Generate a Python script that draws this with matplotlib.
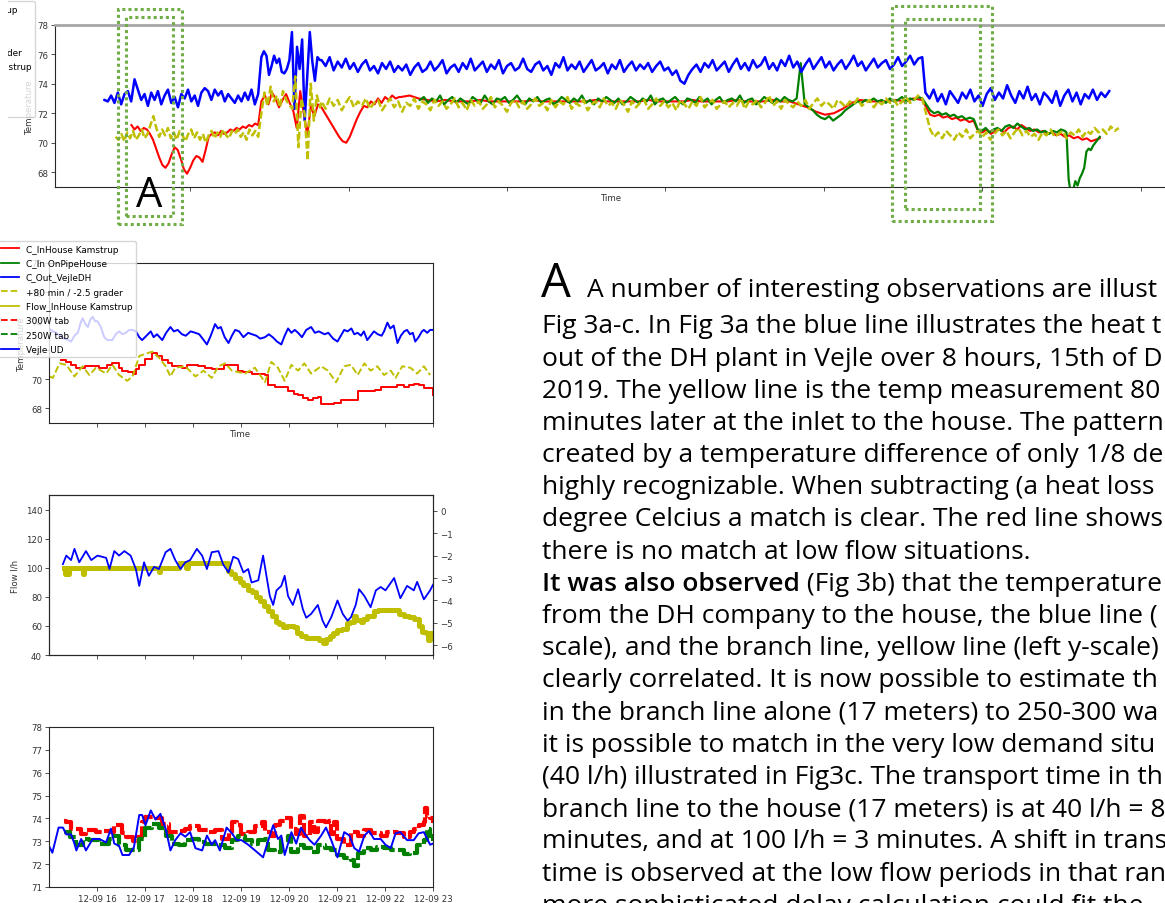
import numpy as np
import matplotlib
matplotlib.use('Agg')
import matplotlib.pyplot as plt
from matplotlib.lines import Line2D
from matplotlib.patches import Rectangle

# ---------------- data ----------------
# legend entries (same legend used on the overview and on Fig 3a)
legend_labels = ['C_InHouse Kamstrup', 'C_In OnPipeHouse', 'C_Out_VejleDH',
                 '+80 min / -2.5 grader', 'Flow_InHouse Kamstrup',
                 '300W tab', '250W tab', 'Vejle UD']

# overview chart (top), time in arbitrary units, one span per segment
blue_spans = [(0.46, 1.43), (1.45, 1.82), (1.83, 5.62), (5.64, 6.80)]
blue_a = [72.9, 72.8, 73.2, 72.7, 73.4, 72.6, 73.3, 73.5, 72.8, 74.3, 73.6, 72.9, 73.3, 72.5, 73.4, 72.9,
          73.5, 72.6, 73.2, 73.6, 72.7, 73.1, 72.4, 73.3, 73.0, 73.6, 72.8, 73.2, 72.5, 73.4, 73.7, 73.5,
          72.9, 73.6, 73.2, 73.5, 72.8, 73.3, 73.0, 72.7, 73.2, 72.8, 73.4, 72.9, 73.6, 72.6, 73.3]
blue_b = [75.8, 76.2, 75.9, 74.6, 75.2, 75.9, 75.4, 75.7, 74.8, 74.7, 75.0, 75.6, 77.5, 72.3, 76.5, 75.0,
          77.0, 71.5, 74.5, 77.5, 75.5, 74.2, 75.8, 75.6]
blue_c = [75.6, 75.2, 75.8, 74.9, 75.5, 75.1, 75.7, 75.0, 75.4, 74.8, 75.3, 75.6, 74.9, 75.2, 74.7, 75.4,
          75.0, 75.5, 74.8, 75.2, 74.9, 75.3, 74.6, 75.1, 75.4, 74.8, 75.0, 75.5, 74.9, 75.2, 75.6, 74.7,
          75.1, 75.3, 74.8, 75.4, 75.0, 75.7, 74.9, 75.2, 75.5, 74.8, 75.3, 75.0, 75.6, 74.7, 75.2, 75.4,
          74.9, 75.1, 75.7, 75.0, 74.8, 75.3, 75.5, 74.9, 75.2, 74.6, 75.4, 75.1, 75.8, 74.9, 75.3, 75.0,
          75.5, 74.8, 75.2, 75.6, 74.9, 75.1, 75.4, 74.7, 75.3, 75.0, 75.6, 74.8, 75.2, 75.5, 74.9, 75.3,
          75.0, 75.4, 74.8, 75.2, 75.5, 74.9, 75.1, 74.6, 74.9, 74.2, 74.0, 74.6, 75.0, 75.3, 74.8, 75.4,
          75.1, 75.6, 74.9, 75.2, 75.5, 74.8, 75.3, 75.7, 75.0, 75.4, 74.9, 75.6, 75.1, 75.3, 75.8, 75.0,
          75.4, 74.9, 75.6, 75.2, 75.9, 75.1, 75.5, 74.8, 75.3, 75.7, 75.0, 75.4, 75.8, 75.1, 75.5, 74.9,
          75.3, 75.6, 75.0, 75.4, 75.9, 75.2, 75.5, 74.9, 75.3, 75.7, 75.1, 75.4, 75.6, 75.0, 75.3, 75.8,
          75.2, 75.5, 75.9, 75.3, 75.7, 75.8]
blue_d = [73.4, 73.0, 73.6, 72.8, 73.3, 72.6, 73.5, 73.1, 72.7, 73.4, 73.0, 73.6, 72.8, 73.2, 72.5, 73.3,
          73.7, 72.9, 73.4, 73.0, 73.9, 73.2, 72.7, 73.5, 73.0, 73.8, 72.9, 73.3, 72.6, 73.4, 73.1, 72.7,
          73.5, 72.5, 73.2, 73.6, 72.8, 73.4, 72.6, 73.3, 73.0, 73.6, 72.9, 73.4, 73.1, 73.5]

red_spans = [(0.63, 1.43), (1.45, 2.32), (2.33, 5.62), (5.67, 6.74)]
red_a = [71.2, 70.9, 71.1, 70.8, 71.0, 70.9, 70.6, 70.2, 69.6, 69.0, 68.5, 68.3, 68.6, 69.2, 69.7, 69.5,
         68.9, 68.2, 67.9, 68.3, 68.8, 69.1, 69.0, 68.7, 69.5, 70.4, 70.6, 70.7, 70.5, 70.8, 70.6, 70.7,
         70.9, 70.8, 71.0, 70.9, 71.1, 71.0, 71.2, 71.1, 71.3, 71.2]
red_b = [72.8, 73.2, 72.6, 73.4, 73.0, 72.4, 72.9, 73.3, 72.7, 72.2, 71.0, 73.5, 72.0, 70.5, 72.5, 71.8,
         72.6, 72.4, 72.0, 71.6, 71.2, 70.8, 70.4, 70.1, 70.0, 70.4, 71.0, 71.6, 72.1, 72.5, 72.4, 72.8,
         72.6, 73.0, 72.7, 73.1, 72.9, 73.2, 73.0, 73.1]
red_c = [73.1, 73.2, 73.0, 72.9, 72.8, 72.9, 72.8, 72.8, 72.8, 72.9, 72.8, 72.8, 72.8, 72.8, 72.8, 72.9,
         72.8, 72.8, 72.8, 72.8, 72.8, 72.8, 72.9, 72.8, 72.8, 72.8, 72.8, 72.8, 72.9, 72.8, 72.8, 72.8,
         72.8, 72.9, 72.8, 72.8, 72.8, 72.8, 72.9, 72.8, 72.8, 72.8, 72.9, 72.8, 72.8, 72.6, 72.4, 72.1,
         71.9, 72.0, 72.3, 72.7, 72.9, 72.8, 72.8, 72.8, 72.9, 72.8, 73.0, 72.9]
red_d = [71.9, 71.8, 71.9, 71.7, 71.8, 71.6, 71.7, 71.5, 71.6, 71.4, 71.5, 70.8, 70.7, 70.9, 70.6, 70.8,
         70.9, 70.7, 71.0, 71.1, 70.9, 71.2, 71.0, 70.8, 70.9, 70.7, 70.8, 70.6, 70.7, 70.5, 70.6, 70.4,
         70.5, 70.3, 70.4, 70.2, 70.3, 70.1, 70.2, 70.3]

green_spans = [(2.45, 5.62), (5.67, 6.52), (6.53, 6.74)]
green_a = [72.9, 73.1, 72.7, 73.0, 72.8, 73.2, 72.6, 72.9, 73.1, 72.7, 73.0, 72.8, 72.6, 73.1, 72.9, 72.7,
           73.2, 72.8, 72.6, 73.0, 72.9, 73.1, 72.7, 72.9, 73.2, 72.8, 72.6, 73.0, 72.8, 73.1, 72.7, 72.9,
           73.0, 72.6, 72.8, 73.1, 72.9, 72.7, 73.0, 72.8, 73.2, 72.7, 72.9, 72.6, 73.0, 72.8, 73.1, 72.9,
           72.7, 73.0, 72.6, 72.8, 73.1, 72.9, 72.7, 73.0, 72.8, 73.2, 72.6, 72.9, 73.0, 72.7, 72.9, 73.1,
           72.8, 72.6, 73.0, 72.9, 72.7, 73.1, 72.8, 73.0, 72.6, 72.9, 73.1, 72.7, 72.9, 73.0, 72.8, 73.2,
           72.7, 72.9, 73.0, 72.6, 72.8, 73.1, 72.9, 72.7, 73.0, 72.8, 73.1, 72.9, 72.8, 73.0, 75.4, 72.6,
           72.4, 72.2, 71.9, 71.7, 71.6, 71.8, 71.5, 71.7, 71.9, 72.2, 72.4, 72.6, 72.8, 72.7, 72.9, 72.8,
           73.0, 72.8, 72.9, 72.7, 73.0, 72.8, 72.9, 73.1, 72.8, 73.0, 72.9, 73.1, 73.0]
green_b = [72.2, 72.0, 72.1, 71.9, 72.0, 71.8, 71.9, 71.7, 71.8, 71.6, 71.7, 71.6, 70.9, 70.8, 71.0, 70.7,
           70.9, 71.0, 70.8, 71.1, 71.2, 71.0, 71.3, 71.1, 70.9, 71.0, 70.8, 70.9, 70.7, 70.8, 70.6, 70.8,
           70.7, 70.9, 70.8]
green_c = [70.7, 67.5, 66.5, 66.8, 67.4, 67.1, 67.6, 67.9, 68.3, 69.4, 69.6, 69.5, 69.8, 70.0, 70.2, 70.4]

yellow_spans = [(0.53, 1.43), (1.45, 1.82), (1.83, 5.62), (5.67, 6.86)]
yellow_a = [70.4, 70.2, 70.6, 70.1, 70.7, 70.3, 70.8, 70.2, 70.5, 70.9, 70.3, 70.6, 71.2, 71.8, 71.0, 70.4,
            70.9, 70.5, 71.0, 70.3, 70.7, 70.2, 70.8, 70.5, 70.1, 70.6, 70.9, 70.3, 70.7, 70.2, 70.6, 70.0,
            70.5, 70.8, 70.3, 70.7, 70.4, 70.9, 70.5, 70.3, 70.8, 70.6, 70.9, 70.4, 70.7, 70.2, 70.9, 70.5,
            70.8, 70.4]
yellow_b = [72.0, 73.4, 72.5, 73.8, 72.8, 73.2, 72.4, 73.5, 72.9, 72.6, 72.3, 74.5, 69.7, 73.0, 72.0, 68.8,
            74.0, 71.5, 73.2, 72.4]
yellow_c = [72.8, 72.3, 73.0, 72.5, 72.9, 72.2, 72.7, 73.1, 72.4, 72.8, 72.5, 73.0, 72.3, 72.7, 72.9, 72.2,
            72.6, 73.0, 72.4, 72.8, 72.1, 72.7, 72.5, 73.0, 72.3, 72.8, 72.6, 72.2, 72.9, 72.5, 72.8, 72.3,
            72.6, 73.0, 72.4, 72.7, 72.2, 72.9, 72.5, 72.8, 72.3, 72.6, 73.1, 72.4, 72.8, 72.5, 72.1, 72.7,
            72.9, 72.4, 72.8, 72.3, 72.6, 73.0, 72.5, 72.7, 72.2, 72.9, 72.4, 72.8, 72.6, 73.1, 72.3, 72.7,
            72.5, 72.9, 72.2, 72.6, 72.8, 72.4, 73.0, 72.5, 72.7, 72.3, 72.9, 72.6, 72.1, 72.8, 72.4, 72.7,
            72.9, 72.3, 72.6, 73.0, 72.5, 72.8, 72.4, 72.7, 72.2, 72.9, 72.6, 72.3, 72.8, 72.5, 73.1, 72.4,
            72.7, 72.9, 72.3, 72.6, 72.8, 72.4, 72.7, 72.5, 73.0, 72.3, 72.8, 72.6, 72.9, 72.4, 72.7, 73.2,
            72.5, 72.8, 72.3, 72.9, 72.6, 72.4, 72.8, 72.5, 72.9, 72.3, 72.7, 73.0, 72.5, 72.8, 72.6, 72.3,
            72.9, 72.7, 72.4, 72.8, 72.6, 73.0, 72.5, 72.7, 72.9, 72.4, 72.8, 72.6, 73.0, 72.7, 72.9, 72.5,
            72.8, 73.1, 72.7, 72.9, 73.2, 73.0]
yellow_d = [70.9, 70.4, 70.7, 70.3, 70.8, 70.5, 70.2, 70.7, 70.4, 70.9, 70.3, 70.6, 70.8, 70.4, 70.7, 70.2,
            70.6, 70.9, 70.5, 70.8, 70.3, 70.7, 71.0, 70.5, 70.8, 70.4, 70.6, 70.2, 70.7, 70.5, 70.9, 70.4,
            70.6, 70.8, 70.3, 70.7, 70.5, 70.9, 70.4, 70.8, 70.6, 71.0, 70.7, 70.9, 70.6, 71.1, 70.8, 71.0]

# Fig 3a, time in hours of 12-09
a_blue_t = [15.00, 15.08, 15.15, 15.23, 15.32, 15.40, 15.46, 15.53, 15.60, 15.66, 15.70, 15.76, 15.81,
            15.86, 15.91, 15.96, 16.01, 16.08, 16.15, 16.22, 16.32, 16.39, 16.46, 16.53, 16.60, 16.67,
            16.74, 16.81, 16.88, 16.94, 17.03, 17.12, 17.18, 17.25, 17.36, 17.44, 17.53, 17.60, 17.68,
            17.77, 17.85, 17.95, 18.05, 18.13, 18.20, 18.29, 18.37, 18.46, 18.52, 18.58, 18.66, 18.74,
            18.81, 18.88, 18.96, 19.05, 19.15, 19.23, 19.32, 19.40, 19.50, 19.58, 19.66, 19.75, 19.84,
            19.91, 19.98, 20.05, 20.12, 20.19, 20.27, 20.36, 20.46, 20.54, 20.62, 20.74, 20.82, 20.92,
            21.01, 21.08, 21.15, 21.22, 21.30, 21.36, 21.43, 21.50, 21.56, 21.63, 21.70, 21.77, 21.85,
            21.93, 21.98, 22.05, 22.11, 22.18, 22.26, 22.33, 22.40, 22.46, 22.52, 22.58, 22.63, 22.70,
            22.77, 22.81, 22.88, 22.94, 23.00]
a_blue_v = [73.5, 73.3, 73.2, 73.0, 72.8, 72.7, 72.6, 73.0, 73.2, 73.9, 74.2, 73.8, 73.6, 74.1, 74.3,
            74.0, 74.0, 73.6, 72.9, 72.7, 72.7, 73.1, 73.3, 73.1, 73.2, 73.4, 73.4, 73.3, 72.9, 72.7,
            73.0, 73.3, 72.9, 73.1, 72.7, 73.2, 73.6, 73.3, 73.4, 73.1, 73.0, 73.3, 73.2, 73.1, 72.8,
            72.4, 73.0, 73.8, 73.5, 73.6, 72.9, 72.5, 73.0, 73.4, 73.3, 72.9, 73.2, 73.1, 73.0, 72.8,
            72.9, 73.1, 72.9, 72.6, 72.4, 73.0, 73.5, 73.2, 73.4, 73.2, 72.9, 73.4, 73.6, 73.2, 73.3,
            73.1, 73.2, 72.8, 72.6, 73.0, 73.4, 73.3, 73.5, 73.1, 73.2, 73.0, 73.3, 72.7, 73.0, 73.3,
            73.1, 73.0, 73.3, 73.9, 73.5, 73.7, 72.5, 73.0, 73.3, 73.4, 73.1, 73.2, 72.6, 72.9, 73.3,
            73.4, 73.2, 73.4, 73.4]
a_red_t = [15.26, 15.36, 15.45, 15.57, 15.75, 16.05, 16.20, 16.32, 16.45, 16.53, 16.65, 16.74, 16.82,
           16.88, 17.01, 17.15, 17.25, 17.36, 17.47, 17.57, 17.77, 17.88, 17.98, 18.10, 18.26, 18.40,
           18.53, 18.65, 18.81, 18.94, 19.05, 19.22, 19.35, 19.50, 19.57, 19.70, 19.84, 19.98, 20.10,
           20.19, 20.30, 20.39, 20.50, 20.60, 20.67, 20.80, 20.94, 21.08, 21.20, 21.36, 21.43, 21.55,
           21.70, 21.80, 21.91, 22.05, 22.26, 22.39, 22.50, 22.60, 22.70, 22.81, 22.94, 23.00]
a_red_v = [71.3, 71.2, 71.0, 70.8, 70.9, 70.8, 71.0, 71.1, 70.8, 70.6, 70.5, 70.4, 70.7, 71.0, 71.4,
           71.8, 71.6, 71.3, 71.1, 70.9, 70.8, 71.0, 71.0, 70.9, 70.8, 70.7, 70.7, 71.0, 71.0, 70.6,
           70.5, 70.4, 70.4, 70.3, 69.6, 69.5, 69.5, 69.2, 69.0, 68.9, 68.7, 68.6, 68.7, 68.8, 68.3,
           68.3, 68.4, 68.6, 68.6, 68.6, 69.2, 69.2, 69.2, 69.3, 69.5, 69.5, 69.6, 69.5, 69.6, 69.7,
           69.6, 69.4, 69.4, 68.9]
a_yel_t = [15.01, 15.08, 15.22, 15.36, 15.53, 15.70, 15.84, 15.98, 16.19, 16.32, 16.46, 16.63, 16.74,
           16.88, 17.05, 17.15, 17.29, 17.43, 17.53, 17.63, 17.84, 18.05, 18.22, 18.39, 18.53, 18.67,
           18.81, 19.08, 19.29, 19.50, 19.63, 19.77, 19.91, 20.05, 20.19, 20.32, 20.46, 20.67, 20.81,
           20.98, 21.15, 21.29, 21.43, 21.57, 21.70, 21.84, 21.98, 22.12, 22.22, 22.36, 22.53, 22.67,
           22.81, 22.94]
a_yel_v = [70.2, 70.1, 71.1, 71.0, 70.2, 70.9, 70.3, 70.8, 70.4, 71.0, 70.3, 69.9, 70.2, 71.6, 71.8,
           71.9, 71.5, 70.9, 70.2, 70.8, 70.9, 70.2, 70.6, 70.1, 70.9, 71.1, 70.6, 70.4, 70.8, 69.8,
           71.2, 70.8, 69.9, 71.0, 70.6, 71.1, 70.4, 70.9, 70.6, 69.8, 70.9, 71.0, 70.3, 71.1, 70.6,
           70.9, 70.3, 70.6, 70.1, 70.9, 70.8, 70.4, 70.9, 70.3]

# Fig 3b: flow (left axis) and temperature drop (right axis)
b_flow_t = [15.32, 15.34, 15.36, 15.39, 15.41, 15.69, 15.70, 15.72, 17.28, 17.29, 17.31, 17.70, 17.85,
            17.86, 17.90, 18.67, 18.72, 18.80, 18.88, 18.97, 19.05, 19.14, 19.22, 19.31, 19.40, 19.48,
            19.57, 19.65, 19.73, 19.80, 19.88, 19.96, 20.10, 20.16, 20.25, 20.35, 20.55, 20.62, 20.70,
            20.77, 20.85, 20.92, 21.00, 21.10, 21.20, 21.28, 21.35, 21.40, 21.50, 21.55, 21.62, 21.70,
            21.77, 21.85, 22.00, 22.25, 22.30, 22.40, 22.50, 22.60, 22.70, 22.78, 22.85, 22.90, 22.94,
            23.00]
b_flow_v = [100, 96, 100, 96, 100, 100, 96, 100, 100, 97, 100, 103, 103, 100, 103, 103, 98, 96, 93, 90,
            88, 85, 83, 80, 77, 74, 70, 67, 63, 61, 59, 60, 59, 55, 53, 52, 52, 50, 48, 51, 53, 55, 57,
            58, 62, 63, 67, 64, 63, 65, 67, 67, 70, 71, 71, 71, 68, 67, 66, 65, 60, 56, 55, 50, 55, 55]
b_drop_t = [15.29, 15.36, 15.46, 15.53, 15.63, 15.77, 15.88, 16.01, 16.19, 16.26, 16.36, 16.46, 16.57,
            16.70, 16.81, 16.88, 16.98, 17.08, 17.19, 17.29, 17.43, 17.53, 17.63, 17.74, 17.84, 17.94,
            18.08, 18.19, 18.29, 18.39, 18.53, 18.63, 18.74, 18.84, 18.94, 19.05, 19.15, 19.22, 19.36,
            19.46, 19.53, 19.60, 19.67, 19.74, 19.84, 19.91, 19.98, 20.08, 20.19, 20.29, 20.36, 20.46,
            20.60, 20.70, 20.77, 20.88, 21.01, 21.12, 21.22, 21.29, 21.39, 21.46, 21.57, 21.70, 21.81,
            21.91, 22.01, 22.19, 22.32, 22.46, 22.60, 22.67, 22.81, 22.94, 23.00]
b_drop_v = [-2.38, -2.0, -2.2, -1.7, -2.3, -1.8, -2.2, -2.0, -2.1, -2.6, -1.8, -2.0, -1.8, -2.0, -2.6,
            -3.35, -2.3, -2.9, -2.5, -2.6, -1.85, -1.7, -2.2, -2.6, -2.3, -2.2, -1.7, -2.0, -2.6, -1.85,
            -1.8, -2.4, -2.75, -2.05, -2.15, -2.75, -2.6, -3.2, -3.1, -2.0, -2.9, -3.8, -4.2, -3.55,
            -3.35, -2.9, -3.8, -4.2, -3.5, -4.4, -4.77, -4.6, -4.2, -4.9, -5.2, -4.75, -4.0, -4.6, -4.9,
            -4.75, -4.2, -3.5, -3.8, -4.3, -3.55, -3.4, -3.55, -3.0, -3.9, -3.35, -3.55, -3.17, -3.95,
            -3.55, -3.3]

# Fig 3c
c_red_t = [15.32, 15.36, 15.46, 15.63, 15.67, 15.77, 15.98, 16.12, 16.29, 16.36, 16.53, 16.60, 16.74,
           16.84, 16.94, 17.01, 17.22, 17.36, 17.50, 17.70, 17.84, 17.94, 18.12, 18.32, 18.46, 18.60,
           18.74, 18.81, 18.91, 19.01, 19.15, 19.29, 19.43, 19.50, 19.63, 19.70, 19.81, 19.91, 20.05,
           20.15, 20.22, 20.32, 20.43, 20.53, 20.60, 20.74, 20.84, 20.88, 20.94, 21.01, 21.15, 21.29,
           21.43, 21.57, 21.70, 21.91, 22.05, 22.26, 22.39, 22.53, 22.60, 22.70, 22.81, 22.84, 22.88,
           22.94, 23.00]
c_red_v = [73.9, 73.85, 73.55, 73.55, 73.3, 73.5, 73.4, 73.45, 73.4, 73.7, 73.35, 73.2, 73.0, 73.2,
           73.85, 74.05, 74.0, 73.75, 73.4, 73.45, 73.55, 73.65, 73.5, 73.4, 73.5, 73.1, 73.4, 73.85,
           73.7, 73.3, 73.4, 73.65, 73.85, 73.4, 73.25, 73.7, 73.9, 74.0, 73.55, 73.3, 74.1, 73.25,
           73.85, 73.4, 73.9, 73.85, 73.9, 73.3, 73.85, 73.1, 72.85, 73.4, 73.25, 73.5, 73.35, 73.25,
           73.4, 73.35, 73.2, 73.4, 73.55, 73.7, 73.85, 74.45, 74.1, 74.0, 73.8]
c_green_t = [15.32, 15.43, 15.57, 15.70, 15.84, 16.05, 16.26, 16.36, 16.46, 16.60, 16.74, 16.88, 17.01,
             17.15, 17.29, 17.43, 17.57, 17.70, 17.84, 17.98, 18.12, 18.26, 18.39, 18.53, 18.67, 18.81,
             18.94, 19.08, 19.22, 19.36, 19.50, 19.57, 19.70, 19.84, 19.98, 20.05, 20.19, 20.32, 20.46,
             20.60, 20.74, 20.88, 21.01, 21.15, 21.29, 21.36, 21.43, 21.57, 21.70, 21.84, 21.98, 22.12,
             22.26, 22.39, 22.53, 22.67, 22.81, 22.88, 22.94, 23.00]
c_green_v = [73.4, 73.2, 72.85, 73.1, 73.05, 72.9, 73.1, 73.25, 72.85, 72.6, 72.6, 73.1, 73.6, 73.75,
             73.6, 73.25, 72.9, 72.85, 73.05, 73.1, 72.95, 72.9, 72.9, 72.85, 72.7, 73.05, 73.25, 73.05,
             72.9, 73.05, 73.1, 72.6, 72.55, 73.05, 73.25, 72.55, 72.85, 72.7, 72.55, 72.85, 72.7, 72.6,
             72.4, 72.25, 72.2, 71.9, 72.5, 72.7, 72.6, 72.75, 72.7, 72.6, 72.6, 72.45, 72.5, 72.85,
             73.05, 73.55, 73.25, 73.0]
c_blue_t = [15.00, 15.07, 15.20, 15.29, 15.36, 15.46, 15.53, 15.57, 15.67, 15.77, 15.91, 16.05, 16.19,
            16.29, 16.36, 16.46, 16.53, 16.67, 16.77, 16.88, 16.94, 17.01, 17.12, 17.22, 17.32, 17.43,
            17.53, 17.63, 17.74, 17.84, 17.94, 18.05, 18.19, 18.29, 18.39, 18.46, 18.56, 18.70, 18.81,
            18.91, 19.01, 19.15, 19.32, 19.46, 19.57, 19.67, 19.77, 19.84, 19.91, 20.05, 20.15, 20.25,
            20.32, 20.43, 20.53, 20.67, 20.77, 20.88, 21.01, 21.15, 21.26, 21.36, 21.46, 21.57, 21.67,
            21.77, 21.91, 22.01, 22.12, 22.22, 22.32, 22.46, 22.60, 22.70, 22.81, 22.94, 23.00]
c_blue_v = [72.8, 72.5, 73.6, 73.6, 73.3, 73.3, 72.9, 72.6, 73.1, 72.6, 73.1, 73.1, 72.95, 73.55, 72.9,
            72.8, 72.4, 72.4, 72.75, 74.15, 74.15, 73.7, 74.35, 73.95, 74.2, 73.55, 72.6, 73.05, 73.35,
            73.2, 73.4, 72.7, 72.6, 73.25, 72.85, 73.05, 72.6, 73.6, 73.35, 73.05, 73.05, 72.85, 72.55,
            72.3, 73.05, 73.7, 73.1, 73.25, 72.4, 73.4, 72.9, 73.6, 73.35, 73.05, 72.85, 73.25, 73.6,
            73.05, 72.3, 73.4, 73.25, 72.7, 72.55, 73.25, 73.45, 73.1, 73.1, 72.85, 72.7, 73.35, 73.4,
            73.05, 73.05, 73.35, 73.4, 72.85, 72.9]
c_tick_labels = ['12-09 16', '12-09 17', '12-09 18', '12-09 19', '12-09 20', '12-09 21', '12-09 22',
                 '12-09 23']

# right-hand text
text_lines = [
    'Fig 3a-c. In Fig 3a the blue line illustrates the heat t',
    'out of the DH plant in Vejle over 8 hours, 15th of D',
    '2019. The yellow line is the temp measurement 80',
    'minutes later at the inlet to the house. The pattern',
    'created by a temperature difference of only 1/8 de',
    'highly recognizable. When subtracting (a heat loss',
    'degree Celcius a match is clear. The red line shows',
    'there is no match at low flow situations.',
    None,
    'from the DH company to the house, the blue line (',
    'scale), and the branch line, yellow line (left y-scale)',
    'clearly correlated. It is now possible to estimate th',
    'in the branch line alone (17 meters) to 250-300 wa',
    'it is possible to match in the very low demand situ',
    '(40 l/h) illustrated in Fig3c. The transport time in th',
    'branch line to the house (17 meters) is at 40 l/h = 8',
    'minutes, and at 100 l/h = 3 minutes. A shift in trans',
    'time is observed at the low flow periods in that ran',
    'more sophisticated delay calculation could fit the',
]
first_line = 'A number of interesting observations are illust'
bold_part = 'It was also observed'
bold_rest = ' (Fig 3b) that the temperature'

# ---------------- drawing ----------------
W, H = 1165, 904
fig = plt.figure(figsize=(W / 100, H / 100), dpi=100)
FS = 6.2
TICK_C = '#333333'


def px_axes(l, t, r, b):
    return fig.add_axes([l / W, 1 - b / H, (r - l) / W, (b - t) / H])


def seg_series(spans, parts):
    ts = [np.linspace(s[0], s[1], len(p)) for s, p in zip(spans, parts)]
    return np.concatenate(ts), np.concatenate([np.array(p, float) for p in parts])


def style_ax(ax):
    ax.tick_params(labelsize=FS, colors=TICK_C, length=3, width=0.6, pad=2)
    for s in ax.spines.values():
        s.set_linewidth(0.8)
        s.set_color('#262626')


legend_handles = [Line2D([], [], color=c, ls=ls, lw=1.3) for c, ls in
                  zip(['r', 'g', 'b', 'y', 'y', 'r', 'g', 'b'],
                      ['-', '-', '-', '--', '-', '--', '--', '-'])]
legend_kw = dict(loc='upper right', bbox_transform=fig.transFigure, borderaxespad=0,
                 fontsize=6.4, framealpha=0.8, labelspacing=0.6)

# overview chart
ax0 = px_axes(55, 25.7, 1169, 188)
style_ax(ax0)
ax0.spines['top'].set_color('#a6a6a6')
ax0.spines['top'].set_linewidth(2)
ax0.spines['right'].set_visible(False)
t, v = seg_series(red_spans, [red_a, red_b, red_c, red_d])
ax0.plot(t, v, color='r', lw=1.5)
t, v = seg_series(green_spans, [green_a, green_b, green_c])
ax0.plot(t, v, color='g', lw=1.6)
t, v = seg_series(blue_spans, [blue_a, blue_b, blue_c, blue_d])
ax0.plot(t, v, color='b', lw=1.8)
t, v = seg_series(yellow_spans, [yellow_a, yellow_b, yellow_c, yellow_d])
ax0.plot(t, v, color='y', lw=1.8, ls=(0, (3, 1.2)))
ax0.set_xlim(0.148, 7.177)
ax0.set_ylim(67, 78)
ax0.set_yticks([68, 70, 72, 74, 76, 78])
ax0.set_xticks([1, 2, 3, 4, 5, 6, 7])
ax0.tick_params(labelbottom=False)
ax0.set_xlabel('Time', fontsize=FS, color=TICK_C, labelpad=1)
ax0.set_ylabel('Temperature', fontsize=FS, color=TICK_C, labelpad=2)
ax0.legend(legend_handles, legend_labels, bbox_to_anchor=(35 / W, 1 - 2 / H), **legend_kw)

# the overview picture starts a few pixels in from the page edge
fig.add_artist(Rectangle((0, 1 - 232 / H), 8 / W, 232 / H, facecolor='white', edgecolor='none',
                         transform=fig.transFigure, zorder=10))

# Fig 3a
ax_a = px_axes(49, 264, 433, 424)
style_ax(ax_a)
ax_a.plot(a_blue_t, a_blue_v, color='b', lw=1.4)
ax_a.plot(a_red_t, a_red_v, color='r', lw=1.4, drawstyle='steps-post')
ax_a.plot(a_yel_t, a_yel_v, color='y', lw=1.4, ls=(0, (3.5, 1.5)))
ax_a.set_xlim(15, 23)
ax_a.set_ylim(67, 78)
ax_a.set_yticks([68, 70, 72, 74, 76, 78])
ax_a.set_xticks(range(16, 24))
ax_a.tick_params(labelbottom=False)
ax_a.set_xlabel('Time', fontsize=FS, color=TICK_C, labelpad=1)
ax_a.set_ylabel('Temperature', fontsize=FS, color=TICK_C)
ax_a.legend(legend_handles, legend_labels, bbox_to_anchor=(136 / W, 1 - 242 / H), **legend_kw)

# Fig 3b
ax_b = px_axes(49, 496, 433, 656)
style_ax(ax_b)
ax_b.plot(b_flow_t, b_flow_v, color='y', lw=3.6, drawstyle='steps-post')
ax_b.set_xlim(15, 23)
ax_b.set_ylim(40, 150)
ax_b.set_yticks([40, 60, 80, 100, 120, 140])
ax_b.set_xticks(range(16, 24))
ax_b.tick_params(labelbottom=False)
ax_b.set_ylabel('Flow l/h', fontsize=FS, color=TICK_C)
ax_b2 = ax_b.twinx()
style_ax(ax_b2)
ax_b2.plot(b_drop_t, b_drop_v, color='b', lw=1.3)
ax_b2.set_ylim(-6.43, 0.70)
ax_b2.set_yticks([0, -1, -2, -3, -4, -5, -6])

# Fig 3c
ax_c = px_axes(49, 728, 433, 888)
style_ax(ax_c)
ax_c.plot(c_red_t, c_red_v, color='r', lw=3, ls=(0, (4, 0.8)), drawstyle='steps-post')
ax_c.plot(c_green_t, c_green_v, color='g', lw=3, ls=(0, (4, 0.8)), drawstyle='steps-post')
ax_c.plot(c_blue_t, c_blue_v, color='b', lw=1.4)
ax_c.set_xlim(15, 23)
ax_c.set_ylim(71, 78)
ax_c.set_yticks(range(71, 79))
ax_c.set_xticks(range(16, 24))
ax_c.set_xticklabels(c_tick_labels)

# green dotted call-out boxes
box_kw = dict(fill=False, edgecolor='#70ad47', lw=2.2, ls=(0, (1, 1)), transform=fig.transFigure)
for l, t_, r, b in [(118, 10, 182, 225), (126, 18, 173, 217), (892, 7, 992, 222), (905, 20, 980, 210)]:
    fig.add_artist(Rectangle((l / W, 1 - b / H), (r - l) / W, (b - t_) / H, **box_kw))
fig.text(149 / W, 1 - 207 / H, 'A', fontsize=30, family='Open Sans', ha='center', va='baseline')

# right-hand paragraph, font size fitted to a full-width line
renderer = fig.canvas.get_renderer()
probe = fig.text(0, 0, text_lines[6], fontsize=15, family='Open Sans')
fs = 15 * 621 / probe.get_window_extent(renderer).width
probe.remove()

fig.text(541 / W, 1 - 296.7 / H, 'A', fontsize=34, family='Open Sans', va='baseline')
fig.text(587 / W, 1 - 296.7 / H, first_line, fontsize=fs, family='Open Sans', va='baseline')
for i, line in enumerate(text_lines):
    y = 1 - (333.3 + i * 32.2) / H
    if line is None:
        tb = fig.text(542 / W, y, bold_part, fontsize=fs, family='Open Sans', weight='semibold',
                      va='baseline')
        x1 = tb.get_window_extent(renderer).x1
        fig.text(x1 / W, y, bold_rest, fontsize=fs, family='Open Sans', va='baseline')
    else:
        fig.text(542 / W, y, line, fontsize=fs, family='Open Sans', va='baseline')

fig.savefig('out.png', dpi=100)
